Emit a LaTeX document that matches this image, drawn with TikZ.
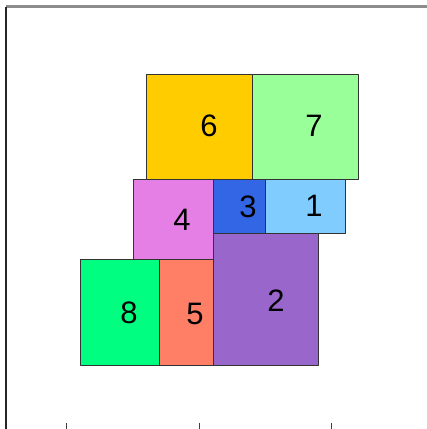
\documentclass[tikz,border=0pt]{standalone}
\usepackage{fontspec}
\setmainfont{Liberation Sans}
\definecolor{c1}{HTML}{80CCFF}
\definecolor{c2}{HTML}{9966CC}
\definecolor{c3}{HTML}{3366E5}
\definecolor{c4}{HTML}{E57FE5}
\definecolor{c5}{HTML}{FF7F66}
\definecolor{c6}{HTML}{FFCC00}
\definecolor{c7}{HTML}{99FF99}
\definecolor{c8}{HTML}{00FF80}
\begin{document}
\begin{tikzpicture}[x=1pt,y=-1pt,line join=round,
	tile/.style={draw=black!80,line width=1pt},
	num/.style={inner sep=0pt,font=\fontsize{31}{33}\selectfont}]
	\useasboundingbox (0,0) rectangle (427,429);
	% frame
	\path
	(6,6.5) coordinate (TL)
	(427,6.5) coordinate (TR)
	(6,429) coordinate (BL);
	\draw[line width=2.5pt,black!45] (TL) -- (TR);
	\draw[line width=1.6pt,black!85] (TL) -- (BL);
	\foreach \t in {66,199,331}
		\draw[line width=1pt,black!75] (\t,423) -- (\t,429);
	% tiles
	\draw[tile,fill=c6] (146,74) rectangle (252,179);
	\draw[tile,fill=c7] (252,74) rectangle (358,179);
	\draw[tile,fill=c4] (133,179) rectangle (213,259);
	\draw[tile,fill=c3] (213,179) rectangle (265,233);
	\draw[tile,fill=c1] (265,179) rectangle (345,233);
	\draw[tile,fill=c2] (213,233) rectangle (318,365);
	\draw[tile,fill=c8] (80,259) rectangle (159,365);
	\draw[tile,fill=c5] (159,259) rectangle (213,365);
	% numbers
	\node[num] (n6) at (209,126) {6};
	\node[num] (n7) at (314,126) {7};
	\node[num] (n4) at (182,220) {4};
	\node[num] (n3) at (248,207) {3};
	\node[num] (n1) at (314,206) {1};
	\node[num] (n2) at (276,301) {2};
	\node[num] (n8) at (129,313) {8};
	\node[num] (n5) at (195,314) {5};
\end{tikzpicture}
\end{document}
